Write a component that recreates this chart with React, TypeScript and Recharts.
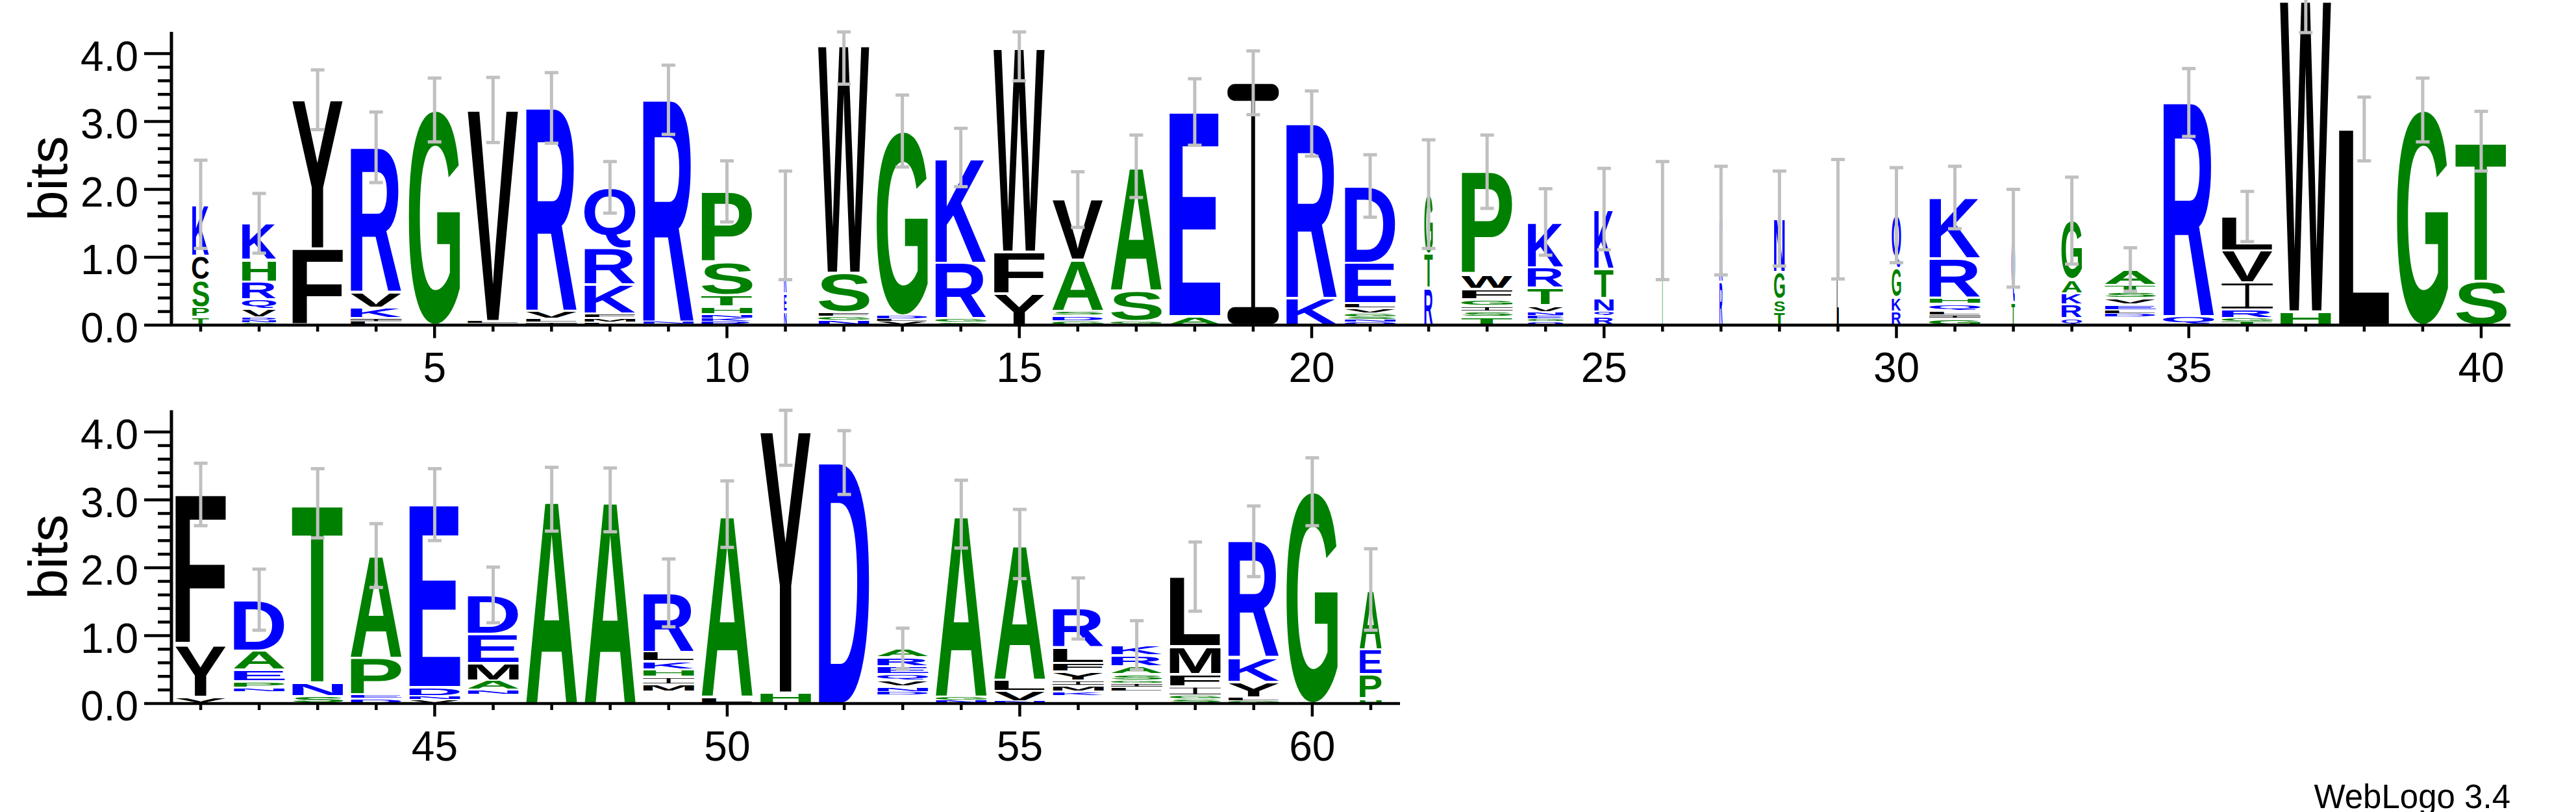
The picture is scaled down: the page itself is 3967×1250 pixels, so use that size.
import React from 'react';
import { ComposedChart, Bar, XAxis, YAxis, Scatter, ErrorBar, ReferenceLine } from 'recharts';

const positions = [
  1, 2, 3, 4, 5, 6, 7, 8, 9, 10, 11, 12, 13, 14, 15, 16, 17, 18, 19, 20,
  21, 22, 23, 24, 25, 26, 27, 28, 29, 30, 31, 32, 33, 34, 35, 36, 37, 38, 39, 40,
  41, 42, 43, 44, 45, 46, 47, 48, 49, 50, 51, 52, 53, 54, 55, 56, 57, 58, 59, 60, 61,
];

// letters of each stack, top to bottom (" " = residue of letters too small to see)
const stackLetters = [
  'KCSPT', 'KHRQVDNG', 'YF', 'RVKIL', 'G', 'VLI', 'RVLI', 'QRKFML', 'RNK', 'PSTHNKR',
  'KREN', 'WSFGN', 'GDLV', 'KRGS', 'WFY', 'VASDG', 'ASGD', 'EA', 'I', 'RK',
  'DELVGSNQ', 'GTR', 'PWFGIST', 'KRTVNEGQ', 'KTNQR', 'T', 'KR', 'NGST', 'L', 'QGKR',
  'KRHQLIG', 'QT', 'GAKRQ', 'ATSVELD ', 'RQ', 'LVIRGT', 'WH', 'L', 'G', 'TS',
  'FYV', 'DAEPN ', 'TNS', 'APED', 'EDNV', 'DEMAN ', 'A', 'A', 'RLKHIM ', 'AL',
  'YH', 'D', 'AREQVND ', 'AGN', 'ALVN', 'RLFYIMK ', 'KRASGIL ', 'LMFIGS', 'RKYLG', 'G',
  'AEPH',
];

// bits of each letter, same order as stackLetters
const stackBits = [
  [0.76, 0.36, 0.4, 0.14, 0.12],
  [0.54, 0.32, 0.26, 0.14, 0.13, 0.04, 0.03, 0.04],
  [2.19, 1.13],
  [2.13, 0.23, 0.16, 0.05, 0.05],
  [3.17],
  [3.11, 0.03, 0.03],
  [2.99, 0.12, 0.05, 0.04],
  [0.9, 0.53, 0.43, 0.06, 0.07, 0.04],
  [3.27, 0.03, 0.02],
  [1.04, 0.49, 0.17, 0.11, 0.06, 0.05, 0.05],
  [0.55, 0.45, 0.27, 0.2],
  [3.35, 0.58, 0.06, 0.06, 0.07],
  [2.72, 0.05, 0.04, 0.05],
  [1.55, 0.82, 0.06, 0.04],
  [3.0, 0.62, 0.46],
  [0.89, 0.75, 0.07, 0.08, 0.06],
  [1.83, 0.45, 0.04, 0.02],
  [3.01, 0.13],
  [3.57],
  [2.57, 0.4],
  [1.13, 0.6, 0.07, 0.08, 0.05, 0.04, 0.04, 0.04],
  [0.88, 0.5, 0.55],
  [1.52, 0.21, 0.15, 0.1, 0.08, 0.08, 0.12],
  [0.67, 0.3, 0.26, 0.1, 0.05, 0.05, 0.04, 0.05],
  [0.88, 0.43, 0.2, 0.07, 0.13],
  [1.54],
  [0.9, 0.64],
  [0.79, 0.4, 0.19, 0.19],
  [1.56],
  [0.78, 0.43, 0.21, 0.2],
  [0.9, 0.57, 0.1, 0.1, 0.06, 0.05, 0.1],
  [0.95, 0.33],
  [0.87, 0.2, 0.17, 0.2, 0.1],
  [0.23, 0.09, 0.1, 0.1, 0.08, 0.05, 0.05, 0.12],
  [3.15, 0.13],
  [0.5, 0.47, 0.4, 0.13, 0.05, 0.05],
  [4.58, 0.2],
  [2.89],
  [3.17],
  [2.06, 0.65],
  [2.22, 0.76, 0.1],
  [0.75, 0.28, 0.17, 0.1, 0.06, 0.17],
  [2.64, 0.2, 0.11],
  [1.51, 0.54, 0.06, 0.07],
  [2.69, 0.13, 0.05, 0.06],
  [0.57, 0.43, 0.26, 0.14, 0.07, 0.13],
  [3.01],
  [3.0],
  [0.87, 0.14, 0.12, 0.11, 0.11, 0.11, 0.17],
  [2.69, 0.1],
  [3.85, 0.16],
  [3.55],
  [0.13, 0.13, 0.12, 0.09, 0.09, 0.08, 0.05, 0.12],
  [2.69, 0.05, 0.05],
  [2.0, 0.17, 0.15, 0.03],
  [0.57, 0.23, 0.13, 0.13, 0.08, 0.09, 0.06, 0.11],
  [0.15, 0.16, 0.12, 0.09, 0.04, 0.06, 0.06, 0.18],
  [1.03, 0.41, 0.18, 0.13, 0.05, 0.07],
  [1.71, 0.36, 0.23, 0.05, 0.04],
  [3.12],
  [0.88, 0.37, 0.36, 0.07],
];

// error bar extent below / above the stack top (bits)
const errorDown = [
  0.65, 0.44, 0.44, 0.52, 0.47, 0.48, 0.52, 0.38, 0.51, 0.45,
  0.8, 0.57, 0.53, 0.43, 0.48, 0.41, 0.46, 0.49, 0.47, 0.48,
  0.46, 0.8, 0.54, 0.49, 0.6, 0.87, 0.8, 0.7, 0.88, 0.7,
  0.46, 0.72, 0.64, 0.32, 0.5, 0.37, 0.47, 0.47, 0.47, 0.44,
  0.46, 0.45, 0.51, 0.47, 0.53, 0.41, 0.47, 0.47, 0.5, 0.49,
  0.5, 0.47, 0.3, 0.5, 0.51, 0.45, 0.36, 0.51, 0.52, 0.5,
  0.6,
];
const errorUp = [
  0.65, 0.44, 0.44, 0.52, 0.47, 0.48, 0.52, 0.38, 0.51, 0.45,
  0.8, 0.2, 0.53, 0.43, 0.24, 0.41, 0.46, 0.49, 0.47, 0.48,
  0.46, 0.8, 0.54, 0.49, 0.6, 0.87, 0.8, 0.7, 0.88, 0.7,
  0.46, 0.72, 0.64, 0.32, 0.5, 0.37, 0.5, 0.47, 0.47, 0.44,
  0.46, 0.45, 0.51, 0.47, 0.53, 0.41, 0.47, 0.47, 0.5, 0.49,
  0.31, 0.47, 0.3, 0.5, 0.51, 0.45, 0.36, 0.51, 0.52, 0.5,
  0.6,
];

// fraction of the column width the stack occupies (occupancy scaling)
const stackWidth = [
  0.33, 0.67, 1, 1, 1, 1, 1, 1, 1, 1,
  0.05, 1, 1, 1, 1, 1, 1, 1, 1, 1,
  1, 0.165, 1, 0.7, 0.38, 0.03, 0.06, 0.21, 0.04, 0.18,
  1, 0.07, 0.4, 1, 1, 1, 1, 1, 1, 1,
  1, 1, 1, 1, 1, 1, 1, 1, 1, 1,
  1, 1, 1, 1, 1, 1, 1, 1, 1, 1,
  0.43,
];

const bitTicks = [0, 0.2, 0.4, 0.6, 0.8, 1.0, 1.2, 1.4, 1.6, 1.8, 2.0, 2.2, 2.4, 2.6, 2.8, 3.0, 3.2, 3.4, 3.6, 3.8, 4.0];
const topRowTicks = positions.slice(0, 40);
const bottomRowTicks = positions.slice(40, 61);

// ---------------- styles ----------------
const BLACK = '#000000';
const GREEN = '#008000';
const BLUE = '#0000ff';
const ERR_GREY = '#c0c0c0';
const TEXT_FONT = '"Liberation Sans", Arial, Helvetica, sans-serif';
const GLYPH_FONT = '"Liberation Sans", Arial, Helvetica, sans-serif';

const letterColor: Record<string, string> = {
  F: BLACK, Y: BLACK, W: BLACK, V: BLACK, L: BLACK, I: BLACK, M: BLACK, C: BLACK,
  A: GREEN, G: GREEN, S: GREEN, T: GREEN, P: GREEN, H: GREEN,
  K: BLUE, R: BLUE, D: BLUE, E: BLUE, Q: BLUE, N: BLUE,
};

const MAX_BITS = 4.32;
const MAX_SLOTS = 8;
const slots = Array.from({ length: MAX_SLOTS }, (_, k) => k);

function buildRows(from: number, to: number) {
  const rows: any[] = [];
  for (let i = from; i < to; i++) {
    const letters = stackLetters[i].split('').reverse();
    const bits = [...stackBits[i]].reverse();
    const row: any = { pos: positions[i], wFrac: stackWidth[i] };
    let total = 0;
    for (let k = 0; k < MAX_SLOTS; k++) {
      row['L' + k] = letters[k] ?? '';
      row['s' + k] = bits[k] ?? 0;
      total += bits[k] ?? 0;
    }
    row.top = total;
    row.err = [errorDown[i], errorUp[i]];
    rows.push(row);
  }
  return rows;
}

const topRows = buildRows(0, 40);
const bottomRows = buildRows(40, 61);

// ---------------- glyph drawing ----------------
const metricCache: Record<string, { left: number; right: number; asc: number; desc: number }> = {};
function glyphMetrics(ch: string) {
  if (metricCache[ch]) return metricCache[ch];
  let res = { left: 5, right: 67, asc: 72, desc: 0 };
  try {
    const canvas = document.createElement('canvas');
    const ctx = canvas.getContext('2d');
    if (ctx) {
      ctx.font = `bold 100px ${GLYPH_FONT}`;
      const m = ctx.measureText(ch);
      res = {
        left: -m.actualBoundingBoxLeft,
        right: m.actualBoundingBoxRight,
        asc: m.actualBoundingBoxAscent,
        desc: m.actualBoundingBoxDescent,
      };
    }
  } catch (e) {
    /* keep defaults */
  }
  metricCache[ch] = res;
  return res;
}

const makeGlyphShape = (slot: number) => (props: any) => {
  let { x, y, width, height } = props;
  const payload = props.payload;
  const ch: string = payload ? payload['L' + slot] : '';
  if (!ch || ch === ' ' || !height) return <g />;
  if (height < 0) {
    y += height;
    height = -height;
  }
  const cx = x + width / 2;
  const gw = width * (payload.wFrac ?? 1);
  const pad = Math.min(1.8, height * 0.2);
  const gx = cx - gw / 2;
  const gy = y + pad;
  const gh = height - 2 * pad;
  const color = letterColor[ch] ?? BLACK;
  if (ch === 'I') {
    const barH = Math.max(0.8, gh * 0.07);
    const stemW = Math.max(0.8, gw * 0.075);
    return (
      <g fill={color}>
        <rect x={gx} y={gy} width={gw} height={barH} rx={barH * 0.45} />
        <rect x={cx - stemW / 2} y={gy} width={stemW} height={gh} />
        <rect x={gx} y={gy + gh - barH} width={gw} height={barH} rx={barH * 0.45} />
      </g>
    );
  }
  const m = glyphMetrics(ch);
  const inkW = Math.max(1, m.right - m.left);
  const inkH = Math.max(1, m.asc + m.desc);
  return (
    <text
      transform={`translate(${gx},${gy}) scale(${gw / inkW},${gh / inkH}) translate(${-m.left},${m.asc})`}
      x={0}
      y={0}
      fontFamily={GLYPH_FONT}
      fontWeight="bold"
      fontSize={100}
      fill={color}
    >
      {ch}
    </text>
  );
};
const glyphShapes = slots.map((k) => makeGlyphShape(k));

// ---------------- axis ticks ----------------
const XTick = (props: any) => {
  const { x, y, payload } = props;
  const v = payload.value;
  const major = v % 5 === 0;
  return (
    <g>
      <line x1={x} x2={x} y1={y} y2={y + (major ? 20 : 10)} stroke={BLACK} strokeWidth={4.5} />
      {major && (
        <text x={x} y={y + 87.5} textAnchor="middle" fontSize={64} fontFamily={TEXT_FONT} fill={BLACK}>
          {v}
        </text>
      )}
    </g>
  );
};

const YTick = (props: any) => {
  const { x, y, payload } = props;
  const v = payload.value;
  const major = Math.abs(v - Math.round(v)) < 1e-6;
  return (
    <g>
      <line x1={x - (major ? 42 : 21)} x2={x} y1={y} y2={y} stroke={BLACK} strokeWidth={4.5} />
      {major && (
        <text x={x - 51} y={y + 26} textAnchor="end" fontSize={64} fontFamily={TEXT_FONT} fill={BLACK}>
          {v.toFixed(1)}
        </text>
      )}
    </g>
  );
};

// ---------------- panel ----------------
type PanelProps = {
  rows: any[];
  ticks: number[];
  yTop: number;
  width: number;
  height: number;
  marginTop: number;
  marginRight: number;
  xAxisHeight: number;
};

function LogoPanel({ rows, ticks, yTop, width, height, marginTop, marginRight, xAxisHeight }: PanelProps) {
  const xDomain = [ticks[0] - 0.5, ticks[ticks.length - 1] + 0.5];
  return (
    <ComposedChart
      width={width}
      height={height}
      data={rows}
      margin={{ top: marginTop, right: marginRight, bottom: 0, left: 0 }}
      barCategoryGap="6%"
    >
      <XAxis
        type="number"
        dataKey="pos"
        domain={xDomain}
        ticks={ticks}
        interval={0}
        allowDataOverflow
        tickSize={0}
        tickMargin={0}
        tick={<XTick />}
        axisLine={{ stroke: BLACK, strokeWidth: 4.5 }}
        height={xAxisHeight}
      />
      <YAxis
        type="number"
        domain={[0, yTop]}
        ticks={bitTicks}
        interval={0}
        allowDataOverflow
        tickSize={0}
        tickMargin={0}
        tick={<YTick />}
        axisLine={false}
        width={264}
      />
      {slots.map((k) => (
        <Bar
          key={k}
          dataKey={'s' + k}
          stackId="logo"
          isAnimationActive={false}
          shape={glyphShapes[k]}
        />
      ))}
      <ReferenceLine
        segment={[
          { x: xDomain[0], y: 0 },
          { x: xDomain[0], y: MAX_BITS },
        ]}
        stroke={BLACK}
        strokeWidth={5}
      />
      <Scatter dataKey="top" isAnimationActive={false} shape={() => <g />}>
        <ErrorBar
          dataKey="err"
          direction="y"
          width={10.5}
          stroke={ERR_GREY}
          strokeWidth={5}
          isAnimationActive={false}
        />
      </Scatter>
    </ComposedChart>
  );
}

export default function App() {
  return (
    <div style={{ position: 'absolute', left: 0, top: 0, width: 3967, height: 1250, background: '#ffffff' }}>
      <div style={{ position: 'absolute', left: 0, top: 0 }}>
        <LogoPanel
          rows={topRows}
          ticks={topRowTicks}
          yTop={4.79}
          width={3967}
          height={600}
          marginTop={0}
          marginRight={101}
          xAxisHeight={99.5}
        />
      </div>
      <div style={{ position: 'absolute', left: 0, top: 600 }}>
        <LogoPanel
          rows={bottomRows}
          ticks={bottomRowTicks}
          yTop={MAX_BITS}
          width={3967}
          height={600}
          marginTop={31.6}
          marginRight={1811}
          xAxisHeight={117}
        />
      </div>
      <svg
        width={3967}
        height={1250}
        style={{ position: 'absolute', left: 0, top: 0, pointerEvents: 'none' }}
      >
        <text
          transform="translate(103, 274.8) rotate(-90)"
          textAnchor="middle"
          fontSize={84}
          fontFamily={TEXT_FONT}
          fill={BLACK}
        >
          bits
        </text>
        <text
          transform="translate(103, 857.3) rotate(-90)"
          textAnchor="middle"
          fontSize={84}
          fontFamily={TEXT_FONT}
          fill={BLACK}
        >
          bits
        </text>
        <text x={3866} y={1244} textAnchor="end" fontSize={51} fontFamily={TEXT_FONT} fill={BLACK}>
          WebLogo 3.4
        </text>
      </svg>
    </div>
  );
}
